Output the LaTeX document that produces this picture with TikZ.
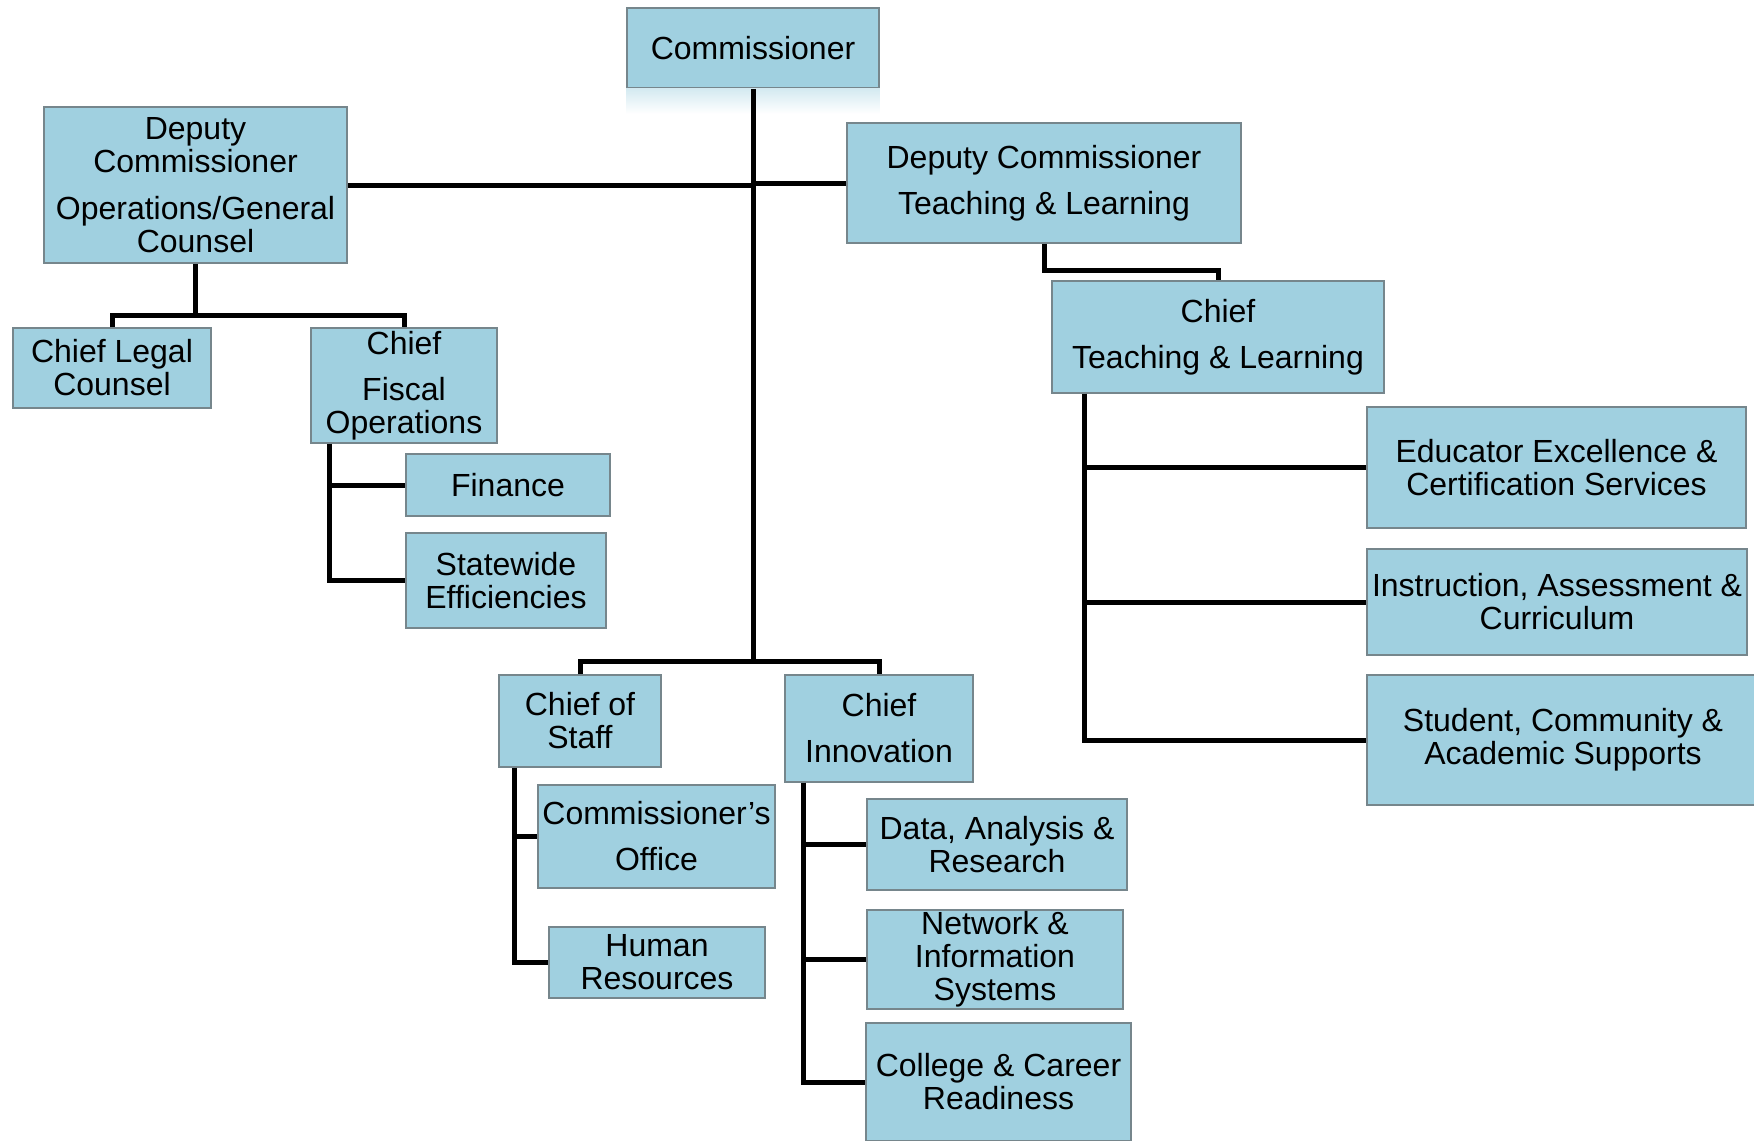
\documentclass[tikz,border=0pt]{standalone}
\usepackage{fontspec}
\setmainfont{Liberation Sans}
\definecolor{boxblue}{RGB}{160,208,224}
\definecolor{boxline}{RGB}{118,134,140}
\tikzstyle{unit} = [rectangle, draw=boxline, fill=boxblue, line width=0.8pt, inner sep=0pt, align=center, font=\fontsize{16}{16.5}\selectfont]
\tikzstyle{link} = [line width=2.5pt]

\begin{document}
\begin{tikzpicture}[x=0.5pt, y=-0.5pt]
\useasboundingbox (0,0) rectangle (1754,1140);
% top level
\node (comm) [unit, minimum width=126pt, minimum height=40pt] at (753,48) {Commissioner};
\shade [top color=boxblue!45, bottom color=white] (comm.south west) rectangle ([yshift=-12.5pt]comm.south east);
\node (dco) [unit, minimum width=151.5pt, minimum height=78pt] at (195.5,185) {Deputy\\Commissioner\\[7pt]Operations/General\\Counsel};
\node (dctl) [unit, minimum width=197pt, minimum height=60pt] at (1044,183) {Deputy Commissioner\\[6.5pt]Teaching \& Learning};
% operations side
\node (clc) [unit, minimum width=99pt, minimum height=40pt] at (112,368) {Chief Legal\\Counsel};
\node (cfo) [unit, minimum width=93pt, minimum height=57.5pt] at (404,385.5) {Chief\\[6.5pt]Fiscal\\Operations};
\node (fin) [unit, minimum width=102pt, minimum height=31pt] at (508,485) {Finance};
\node (sw) [unit, minimum width=100pt, minimum height=47.5pt] at (506,580.5) {Statewide\\Efficiencies};
% commissioner's own chiefs
\node (cos) [unit, minimum width=81pt, minimum height=46pt] at (580,721) {Chief of\\Staff};
\node (co) [unit, minimum width=118.5pt, minimum height=51.5pt] at (656.5,836.5) {Commissioner’s\\[6.5pt]Office};
\node (hr) [unit, minimum width=108pt, minimum height=35.5pt] at (657,962.5) {Human\\Resources};
\node (cin) [unit, minimum width=94pt, minimum height=53.5pt] at (879,728.5) {Chief\\[6.5pt]Innovation};
\node (data) [unit, minimum width=130pt, minimum height=45.5pt] at (997,844.5) {Data, Analysis \&\\Research};
\node (net) [unit, minimum width=128pt, minimum height=49.5pt] at (995,959.5) {Network \&\\Information\\Systems};
\node (col) [unit, minimum width=132.5pt, minimum height=59pt] at (998.5,1082) {College \& Career\\Readiness};
% teaching and learning side
\node (ctl) [unit, minimum width=166pt, minimum height=56pt] at (1218,337) {Chief\\[6.5pt]Teaching \& Learning};
\node (edu) [unit, minimum width=189.5pt, minimum height=60.5pt] at (1556.5,467.5) {Educator Excellence \&\\Certification Services};
\node (ins) [unit, minimum width=190pt, minimum height=53pt] at (1557,602) {Instruction, Assessment \&\\Curriculum};
\node (stu) [unit, minimum width=196pt, minimum height=65pt] at (1563,740) {Student, Community \&\\Academic Supports};
% connectors
\draw [link] (comm.south) -- ++(0,573) coordinate (mbar);
\draw [link] (dco.east) -- (dco.east -| comm.south);
\draw [link] (dctl.west) -- (dctl.west -| comm.south);
\draw [link] (dco.south) -- ++(0,52) coordinate (dcobar);
\draw [link] (clc.north) |- (dcobar) -| (cfo.north);
\draw [link] ([xshift=9.5pt]cfo.south west) |- (fin.west);
\draw [link] ([xshift=9.5pt]cfo.south west) |- (sw.west);
\draw [link] (cos.north) |- (mbar) -| (cin.north);
\draw [link] ([xshift=8pt]cos.south west) |- (co.west);
\draw [link] ([xshift=8pt]cos.south west) |- (hr.west);
\draw [link] ([xshift=9.5pt]cin.south west) |- (data.west);
\draw [link] ([xshift=9.5pt]cin.south west) |- (net.west);
\draw [link] ([xshift=9.5pt]cin.south west) |- (col.west);
\draw [link] (dctl.south) -- ++(0,27) -| (ctl.north);
\draw [link] ([xshift=16.5pt]ctl.south west) |- (edu.west);
\draw [link] ([xshift=16.5pt]ctl.south west) |- (ins.west);
\draw [link] ([xshift=16.5pt]ctl.south west) |- (stu.west);
\end{tikzpicture}
\end{document}
